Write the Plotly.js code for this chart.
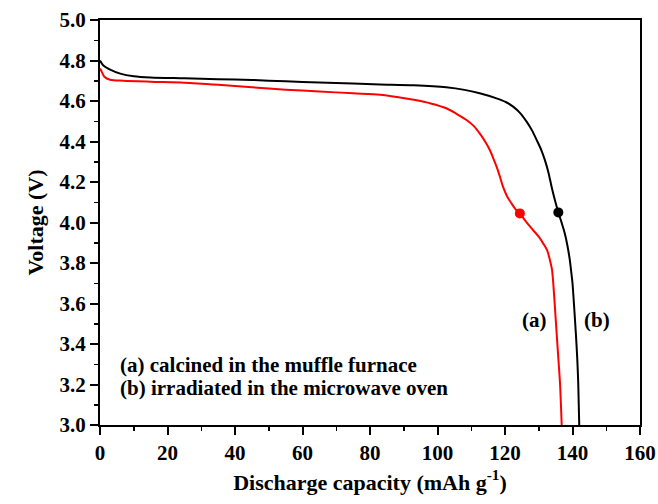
<!DOCTYPE html>
<html>
<head>
<meta charset="utf-8">
<script src="https://cdn.plot.ly/plotly-3.0.1.min.js"></script>
<style>html,body{margin:0;padding:0;background:#fff;}#chart{width:658px;height:504px;}</style>
</head>
<body>
<div id="chart"></div>
<script>
// Curve (a): calcined in the muffle furnace (red)
const capA = [0, 0.5, 1.3, 3, 7, 15, 25, 35, 45, 55, 65, 75, 83, 88, 93, 98, 102.6, 105.5, 108.6, 110.7, 112.5, 114.1, 115.5, 116.5, 117.5, 118.5, 119.4, 120.6, 121.9, 123.1, 124.4, 126.3, 128.3, 130, 131.3, 132.5, 133.3, 133.9, 134.3, 134.8, 135.3, 135.8, 136.3, 136.8];
const voltA = [4.76, 4.745, 4.72, 4.705, 4.70, 4.695, 4.69, 4.68, 4.668, 4.656, 4.647, 4.638, 4.631, 4.620, 4.606, 4.588, 4.564, 4.538, 4.506, 4.477, 4.44, 4.40, 4.358, 4.318, 4.276, 4.226, 4.177, 4.13, 4.095, 4.066, 4.045, 4.003, 3.963, 3.93, 3.897, 3.862, 3.815, 3.77, 3.70, 3.58, 3.453, 3.33, 3.206, 3.0];
// Curve (b): irradiated in the microwave oven (black)
const capB = [0, 1, 3, 6, 10, 15, 25, 35, 45, 55, 65, 75, 83, 93, 102.6, 108, 112.5, 117.5, 120.2, 122.4, 124.5, 126.4, 128, 129.4, 130.7, 131.8, 132.9, 133.8, 134.8, 135.8, 136.8, 137.7, 138.5, 139.2, 139.6, 140, 140.5, 141, 141.4, 141.7, 142];
const voltB = [4.80, 4.775, 4.755, 4.735, 4.722, 4.716, 4.712, 4.708, 4.704, 4.697, 4.691, 4.686, 4.682, 4.678, 4.668, 4.655, 4.638, 4.613, 4.595, 4.572, 4.54, 4.498, 4.455, 4.407, 4.36, 4.309, 4.245, 4.177, 4.11, 4.05, 3.998, 3.947, 3.885, 3.815, 3.76, 3.70, 3.58, 3.45, 3.33, 3.206, 3.0];
// Marked points
const markA = {x: [124.4], y: [4.045]};
const markB = {x: [135.8], y: [4.05]};
// Labels
const labelA = "(a)";
const labelB = "(b)";
const legendA = "(a) calcined in the muffle furnace";
const legendB = "(b) irradiated in the microwave oven";
const xTitle = "Discharge capacity (mAh g<sup>-1</sup>)";
const yTitle = "Voltage (V)";

const serif = "'Liberation Serif', 'Times New Roman', Times, serif";

const traces = [
  {x: capA, y: voltA, mode: "lines", line: {color: "#ff0000", width: 2, shape: "spline", smoothing: 0.8}, hoverinfo: "skip"},
  {x: capB, y: voltB, mode: "lines", line: {color: "#000000", width: 2, shape: "spline", smoothing: 0.8}, hoverinfo: "skip"},
  {x: markA.x, y: markA.y, mode: "markers", marker: {color: "#ff0000", size: 10}},
  {x: markB.x, y: markB.y, mode: "markers", marker: {color: "#000000", size: 10}}
];

const axisCommon = {
  showline: true, linecolor: "#000", linewidth: 2, mirror: true,
  ticks: "outside", ticklen: 8, tickwidth: 2, tickcolor: "#000",
  showgrid: false, zeroline: false,
  tickfont: {family: serif, size: 21, color: "#000", weight: "bold"}
};

const layout = {
  width: 658, height: 504,
  margin: {l: 100, r: 18, t: 20, b: 79},
  paper_bgcolor: "#fff", plot_bgcolor: "#fff",
  showlegend: false,
  font: {family: serif, color: "#000"},
  xaxis: Object.assign({}, axisCommon, {
    range: [0, 160], dtick: 20, tick0: 0,
    minor: {dtick: 10, ticks: "outside", ticklen: 4, tickwidth: 1.5, tickcolor: "#000", showgrid: false},
    title: {text: xTitle, font: {family: serif, size: 22, color: "#000", weight: "bold"}, standoff: 10}
  }),
  yaxis: Object.assign({}, axisCommon, {
    range: [3, 5], dtick: 0.2, tick0: 3, tickformat: ".1f",
    minor: {dtick: 0.1, ticks: "outside", ticklen: 4, tickwidth: 1.5, tickcolor: "#000", showgrid: false},
    title: {text: yTitle, font: {family: serif, size: 22, color: "#000", weight: "bold"}, standoff: 10}
  }),
  annotations: [
    {x: 128.8, y: 3.52, xref: "x", yref: "y", text: labelA, showarrow: false, font: {family: serif, size: 21, color: "#000", weight: "bold"}},
    {x: 147.3, y: 3.52, xref: "x", yref: "y", text: labelB, showarrow: false, font: {family: serif, size: 21, color: "#000", weight: "bold"}},
    {x: 5.2, y: 3.296, xref: "x", yref: "y", xanchor: "left", text: legendA, showarrow: false, font: {family: serif, size: 21, color: "#000", weight: "bold"}},
    {x: 5.2, y: 3.181, xref: "x", yref: "y", xanchor: "left", text: legendB, showarrow: false, font: {family: serif, size: 21, color: "#000", weight: "bold"}}
  ]
};

Plotly.newPlot("chart", traces, layout, {staticPlot: true, displayModeBar: false});
</script>
</body>
</html>
